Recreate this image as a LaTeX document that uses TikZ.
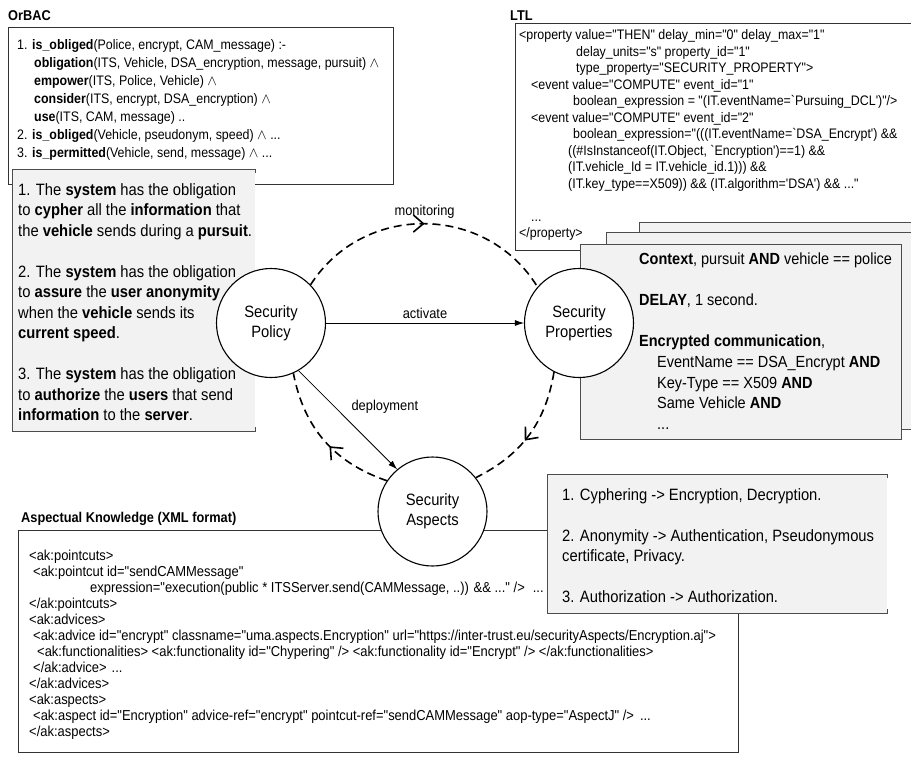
\documentclass[tikz,border=0pt]{standalone}
\usepackage{fontspec}
\setmainfont{Liberation Sans}[FakeStretch=0.9]
\newfontfamily\codefont{Liberation Sans}[FakeStretch=0.9]
\usetikzlibrary{arrows.meta,decorations.markings,positioning}
\newcommand\fs[2]{\fontsize{#1}{#2}\selectfont}
\tikzset{
  secnode/.style={circle,draw,fill=white,line width=1.1pt,minimum size=109pt,inner sep=0pt,align=center,font=\fs{16.4}{20}},
  codebox/.style={draw=black!80,line width=0.8pt,fill=white,inner sep=0pt,anchor=north west},
  notebox/.style={draw=black!70,line width=1pt,fill=black!5,inner sep=0pt,anchor=north west},
  notefill/.style={fill=black!5,inner sep=0pt,anchor=north west},
  noteedge/.style={draw=black!70,line width=1pt},
  boxtitle/.style={anchor=base west,inner sep=0pt,font=\fs{14.2}{17}\bfseries},
  boxtext/.style={anchor=base west,inner sep=0pt,align=left},
  flow/.style={-{Latex[length=9pt,width=6pt]},line width=0.8pt},
  loopback/.style={dash pattern=on 8pt off 5pt,line width=1.6pt,postaction={decorate},
    decoration={markings,mark=at position #1 with {\arrow{Straight Barb[length=10pt,width=17pt]}}}},
  elabel/.style={font=\fs{14.3}{17}}
}
\begin{document}
\begin{tikzpicture}[x=1pt,y=-1pt]
\useasboundingbox (0,0) rectangle (911,764);
\clip (0,0) rectangle (911,764);
\fill[white] (0,0) rectangle (911,764);

\node[boxtitle] (orbactitle) at (8,20) {OrBAC};
\node[codebox,minimum width=385pt,minimum height=157pt] (orbac) at (8,27) {};
\node[boxtext,font=\fs{13.8}{18}] (orbactxt) at (17,157.5) {1. \textbf{is\_obliged}(Police, encrypt, CAM\_message) :-\\
\hspace*{17pt}\textbf{obligation}(ITS, Vehicle, DSA\_encryption, message, pursuit) $\wedge$\\
\hspace*{17pt}\textbf{empower}(ITS, Police, Vehicle) $\wedge$\\
\hspace*{17pt}\textbf{consider}(ITS, encrypt, DSA\_encryption) $\wedge$\\
\hspace*{17pt}\textbf{use}(ITS, CAM, message) ..\\
2. \textbf{is\_obliged}(Vehicle, pseudonym, speed) $\wedge$ ...\\
3. \textbf{is\_permitted}(Vehicle, send, message) $\wedge$ ...};

\node[boxtitle] (ltltitle) at (510,20) {LTL};
\node[codebox,minimum width=400pt,minimum height=227pt] (ltl) at (515,23) {};
\node[boxtext,font=\codefont\fs{13.8}{16.5}] (ltltxt) at (519,237.5) {<property value="THEN" delay\_min="0" delay\_max="1"\\
\hspace*{57pt}delay\_units="s" property\_id="1"\\
\hspace*{57pt}type\_property="SECURITY\_PROPERTY">\\
\hspace*{12pt}<event value="COMPUTE" event\_id="1"\\
\hspace*{54pt}boolean\_expression = "(IT.eventName=`Pursuing\_DCL')"/>\\
\hspace*{12pt}<event value="COMPUTE" event\_id="2"\\
\hspace*{54pt}boolean\_expression="(((IT.eventName=`DSA\_Encrypt') \&\&\\
\hspace*{49pt}((\#IsInstanceof(IT.Object, `Encryption')==1) \&\&\\
\hspace*{49pt}(IT.vehicle\_Id = IT.vehicle\_id.1))) \&\&\\
\hspace*{49pt}(IT.key\_type==X509)) \&\& (IT.algorithm='DSA') \&\& ..."\\[16.5pt]
\hspace*{12pt}...\\
</property>};

\node[boxtitle] (akntitle) at (21,522) {Aspectual Knowledge (XML format)};
\node[codebox,minimum width=720pt,minimum height=222pt] (akn) at (18,530) {};
\node[boxtext,font=\codefont\fs{14.4}{16}] (akntxt) at (29,736.5) {<ak:pointcuts>\\
\hspace*{4pt}<ak:pointcut id="sendCAMMessage"\\
\hspace*{61pt}expression="execution(public * ITSServer.send(CAMMessage, ..)) \&\& ..." />\hspace*{8pt}...\\
</ak:pointcuts>\\
<ak:advices>\\
\hspace*{4pt}<ak:advice id="encrypt" classname="uma.aspects.Encryption" url="https://inter-trust.eu/securityAspects/Encryption.aj">\\
\hspace*{8pt}<ak:functionalities> <ak:functionality id="Chypering" /> <ak:functionality id="Encrypt" /> </ak:functionalities>\\
\hspace*{4pt}</ak:advice>\hspace*{5pt}...\\
</ak:advices>\\
<ak:aspects>\\
\hspace*{4pt}<ak:aspect id="Encryption" advice-ref="encrypt" pointcut-ref="sendCAMMessage" aop-type="AspectJ" />\hspace*{6pt}...\\
</ak:aspects>};

\node[notefill,minimum width=243pt,minimum height=262pt] (rules) at (12,169) {};
\draw[noteedge] ([yshift=-4pt]rules.north east) -- (rules.north east) -- (rules.north west)
  -- (rules.south west) -- (rules.south east) -- ([yshift=4pt]rules.south east);
\node[boxtext,font=\fs{16.4}{20.5}] (rulestxt) at (18,420.8) {1. The \textbf{system} has the obligation\\
to \textbf{cypher} all the \textbf{information} that\\
the \textbf{vehicle} sends during a \textbf{pursuit}.\\[20.5pt]
2. The \textbf{system} has the obligation\\
to \textbf{assure} the \textbf{user anonymity}\\
when the \textbf{vehicle} sends its\\
\textbf{current speed}.\\[20.5pt]
3. The \textbf{system} has the obligation\\
to \textbf{authorize} the \textbf{users} that send\\
\textbf{information} to the \textbf{server}.};

\node[notebox,minimum width=290pt,minimum height=200pt] (ctxc) at (639,222) {};
\node[notebox,minimum width=310pt,minimum height=197pt] (ctxb) at (606,232) {};
\node[notebox,minimum width=321pt,minimum height=195pt] (ctx) at (580,244) {};
\node[boxtext,font=\fs{16.1}{20.7}] (ctxtxt) at (639,429.6) {\textbf{Context}, pursuit \textbf{AND} vehicle == police\\[20.7pt]
\textbf{DELAY}, 1 second.\\[20.7pt]
\textbf{Encrypted communication},\\
\hspace*{18pt}EventName == DSA\_Encrypt \textbf{AND}\\
\hspace*{18pt}Key-Type == X509 \textbf{AND}\\
\hspace*{18pt}Same Vehicle \textbf{AND}\\
\hspace*{18pt}...};

\node[notefill,minimum width=340pt,minimum height=139pt] (cyph) at (547,474) {};
\draw[noteedge] ([yshift=-4pt]cyph.north east) -- (cyph.north east) -- (cyph.north west)
  -- (cyph.south west) -- (cyph.south east) -- ([yshift=4pt]cyph.south east);
\node[boxtext,font=\fs{16.4}{20.5}] (cyphtxt) at (562,602.5) {1. Cyphering -> Encryption, Decryption.\\[20.5pt]
2. Anonymity -> Authentication, Pseudonymous\\
certificate, Privacy.\\[20.5pt]
3. Authorization -> Authorization.};

\node[secnode] (policy) at (271,323) {Security\\Policy};
\node[secnode] (props) at (579,323) {Security\\Properties};
\node[secnode] (aspects) at (432.5,511.5) {Security\\Aspects};

\draw[flow] (policy) -- node[above=1pt,elabel]{activate} (props);
\draw[flow] (policy.300) -- node[pos=0.5,anchor=south west,xshift=0pt,yshift=3pt,elabel]{deployment} (aspects.130);
\draw[loopback=0.5] (policy.44) to[bend left=58,looseness=1.1] node[midway,above=1pt,elabel]{monitoring} (props.139);
\draw[loopback=0.55] (props.243) to[bend left=27] (aspects.38);
\draw[loopback=0.45] (aspects.146) to[bend left=30] (policy.294);
\end{tikzpicture}
\end{document}
